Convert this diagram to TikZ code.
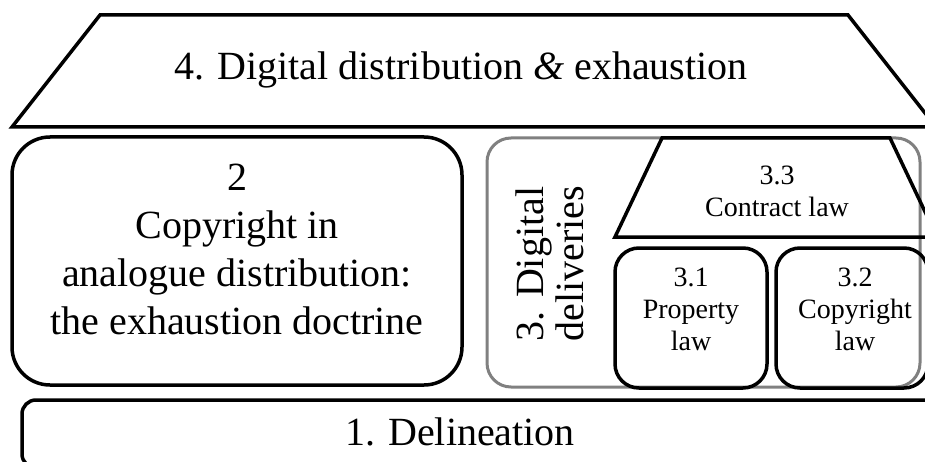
\documentclass[tikz,border=0pt]{standalone}
\usepackage{fontspec}
\setmainfont{Liberation Serif}

\begin{document}
\begin{tikzpicture}[x=1pt,y=-1pt,
  box/.style={draw,line width=3.5pt,rounded corners=#1},
  roof/.style={draw,line width=3.5pt},
  big/.style={font=\fontsize{40}{48}\selectfont,align=center},
  small/.style={font=\fontsize{28}{32}\selectfont,align=center}]
\useasboundingbox (0,0) rectangle (925,462);
\clip (0,0) rectangle (925,462);
\draw [roof] (12,127) -- (100,15) -- (848,15) -- (936,127) -- cycle;
\node [big] (dist) at (461,70) {4. Digital distribution \textit{\&} exhaustion};
\node [box=38pt,minimum width=450pt,minimum height=248pt] (analog) at (237,261) {};
\node [big] (analogt) at ([yshift=12pt]analog) {2\\Copyright in\\analogue distribution:\\the exhaustion doctrine};
\node [draw,gray,line width=3pt,rounded corners=24pt,minimum width=433pt,minimum height=249pt] (digital) at (703.5,262.5) {};
\node [big,rotate=90,font=\fontsize{40}{40}\selectfont] (digitalt) at (550,264) {3. Digital\\deliveries};
\draw [roof] (615,237) -- (662,138) -- (890,138) -- (937,237) -- cycle;
\node [small] (contract) at (777,191) {3.3\\Contract law};
\node [box=24pt,minimum width=152pt,minimum height=140pt] (property) at (691,318) {};
\node [small] (propertyt) at ([yshift=9pt]property) {3.1\\Property\\law};
\node [box=24pt,minimum width=152pt,minimum height=140pt] (copyright) at (852,318) {};
\node [small] (copyrightt) at ([xshift=3pt,yshift=9pt]copyright) {3.2\\Copyright\\law};
\node [box=14pt,minimum width=938pt,minimum height=68pt] (delin) at (491,434) {};
\node [big] (delint) at (460,432) {1. Delineation};
\end{tikzpicture}
\end{document}
